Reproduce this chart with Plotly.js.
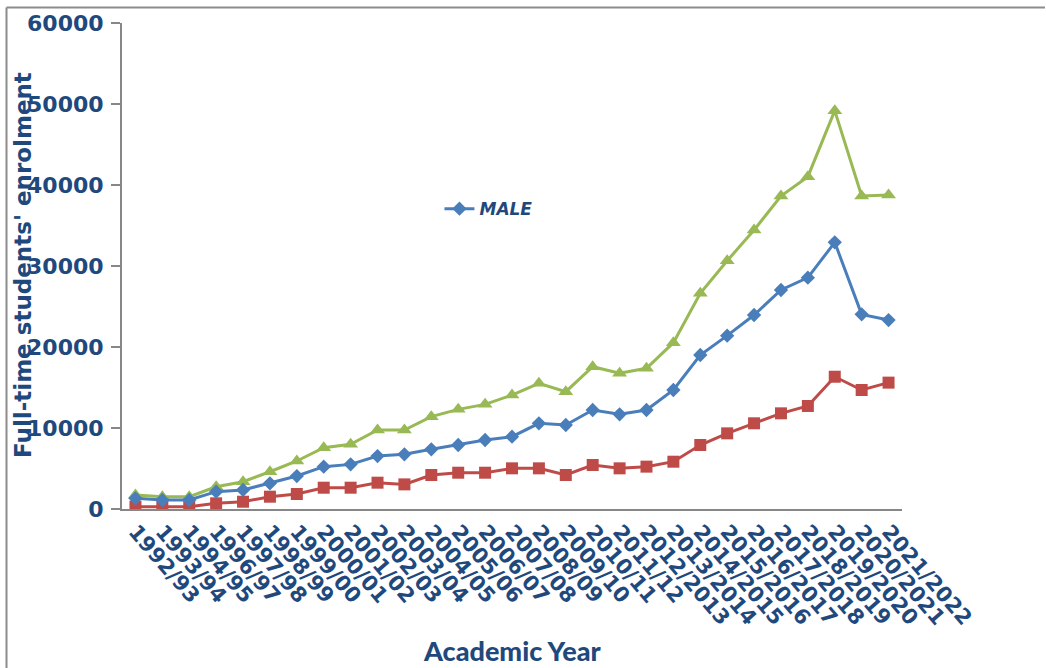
<!DOCTYPE html>
<html>
<head>
<meta charset="utf-8">
<script src="https://cdn.plot.ly/plotly-3.0.1.min.js"></script>
<style>html,body{margin:0;padding:0;background:#fff;}#chart{width:1046px;height:668px;}</style>
</head>
<body>
<div id="chart"></div>
<script>
const years = ["1992/93","1993/94","1994/95","1996/97","1997/98","1998/99","1999/00","2000/01","2001/02","2002/03","2003/04","2004/05","2005/06","2006/07","2007/08","2008/09","2009/10","2010/11","2011/12","2012/2013","2013/2014","2014/2015","2015/2016","2016/2017","2017/2018","2018/2019","2019/2020","2020/2021","2021/2022"];
const male = [1320,1110,1110,2140,2350,3170,4070,5230,5510,6540,6750,7370,7900,8520,8930,10580,10370,12220,11690,12220,14690,19010,21400,23950,27040,28560,32920,24030,23330];
const female = [290,290,290,700,900,1520,1850,2630,2630,3250,3040,4200,4480,4480,5020,5020,4200,5430,5020,5230,5840,7900,9340,10580,11810,12720,16330,14690,15600];
const total = [1730,1520,1520,2750,3370,4600,5930,7570,7980,9750,9750,11400,12300,12920,14070,15510,14480,17570,16750,17370,20530,26630,30650,34440,38640,41030,49180,38640,38770];
const yTicks = [0,10000,20000,30000,40000,50000,60000];

const textColor = '#1F497D';
const axisColor = '#878787';
const baseFont = {family: 'DejaVu Sans, sans-serif', color: textColor, weight: 'bold'};

const traces = [
  {x: years, y: total, name: 'TOTAL', mode: 'lines+markers', showlegend: false,
   line: {color: '#98B954', width: 3}, marker: {symbol: 'triangle-up', size: 13, color: '#98B954'}},
  {x: years, y: female, name: 'FEMALE', mode: 'lines+markers', showlegend: false,
   line: {color: '#BE4B48', width: 3}, marker: {symbol: 'square', size: 12, color: '#BE4B48'}},
  {x: years, y: male, name: 'MALE', mode: 'lines+markers', showlegend: true,
   line: {color: '#4A7EBB', width: 3}, marker: {symbol: 'diamond', size: 11, color: '#4A7EBB'}}
];

const layout = {
  width: 1046, height: 668,
  margin: {l: 122, r: 144, t: 23, b: 159, autoexpand: false},
  paper_bgcolor: '#fff', plot_bgcolor: '#fff',
  showlegend: true,
  legend: {x: 0.407, y: 0.617, xanchor: 'left', yanchor: 'middle', bgcolor: 'rgba(0,0,0,0)',
           font: {family: 'DejaVu Sans, sans-serif', size: 17, color: textColor, weight: 'bold', style: 'italic'}},
  xaxis: {
    type: 'category', range: [-0.5, years.length - 0.5],
    showgrid: false, zeroline: false, showline: true, linecolor: axisColor, linewidth: 2,
    ticks: '', tickangle: 49,
    tickfont: Object.assign({}, baseFont, {size: 21}),
    fixedrange: true
  },
  yaxis: {
    range: [0, 60000], tickvals: yTicks, ticktext: yTicks.map(String),
    showgrid: false, zeroline: false, showline: true, linecolor: axisColor, linewidth: 2,
    ticks: 'outside', ticklen: 9, tickcolor: axisColor, tickwidth: 1.5,
    tickfont: Object.assign({}, baseFont, {size: 22}),
    ticklabelstandoff: 3,
    fixedrange: true
  },
  annotations: [
    {text: "Full-time students' enrolment", xref: 'paper', yref: 'paper', x: (23 - 122) / 780, y: (509 - 265) / 486,
     xanchor: 'center', yanchor: 'middle', textangle: -90, showarrow: false,
     font: Object.assign({}, baseFont, {size: 23})},
    {text: 'Academic Year', xref: 'paper', yref: 'paper', x: (512 - 122) / 780, y: (509 - 650) / 486,
     xanchor: 'center', yanchor: 'middle', showarrow: false,
     font: {family: 'Lato, sans-serif', size: 27, color: textColor, weight: 900}}
  ],
  shapes: [
    {type: 'line', xref: 'paper', yref: 'paper', x0: (6.5 - 122) / 780, x1: (1045 - 122) / 780,
     y0: 1 + (23 - 7.5) / 486, y1: 1 + (23 - 7.5) / 486, line: {color: '#8c8c8c', width: 2}},
    {type: 'line', xref: 'paper', yref: 'paper', x0: (6.5 - 122) / 780, x1: (6.5 - 122) / 780,
     y0: 1 + (23 - 7.5) / 486, y1: (509 - 670) / 486, line: {color: '#8c8c8c', width: 2}}
  ]
};

Plotly.newPlot('chart', traces, layout, {displayModeBar: false, staticPlot: true});
</script>
</body>
</html>
